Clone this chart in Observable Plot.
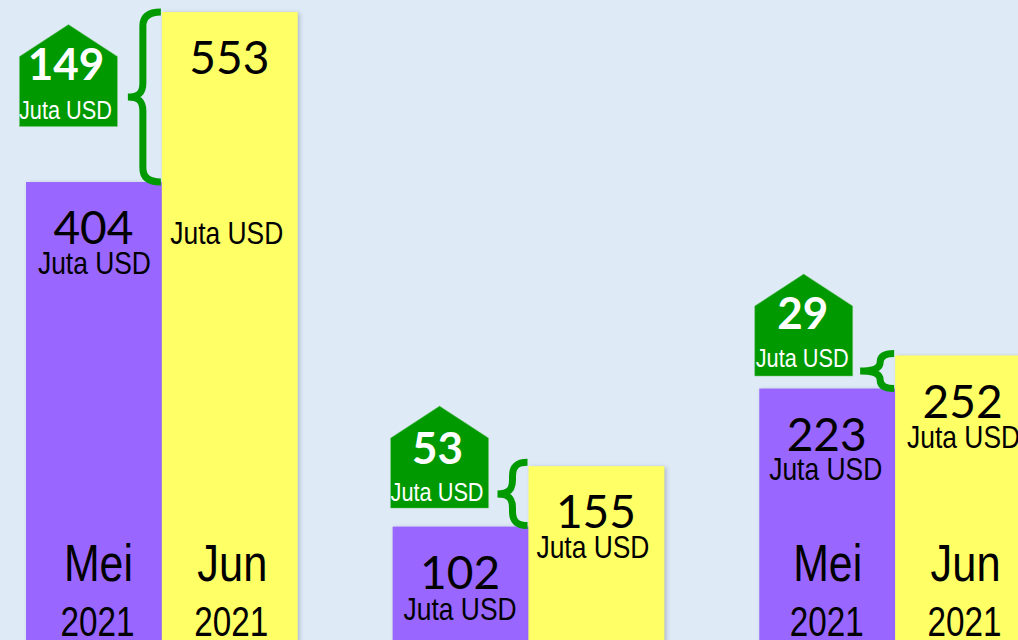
<!DOCTYPE html>
<html><head><meta charset="utf-8">
<script src="https://cdn.jsdelivr.net/npm/d3@7"></script>
<script src="https://cdn.jsdelivr.net/npm/@observablehq/plot@0.6"></script>
<style>
html,body{margin:0;padding:0;background:#DEEAF6;overflow:hidden}
svg{display:block;background:#DEEAF6!important;overflow:hidden}
g[aria-label="bar"] rect{filter:drop-shadow(2px 1px 2px rgba(60,70,90,.28))}
</style></head><body>
<script>
const groups = ["A","B","C"];
const months = ["Mei","Jun"];
const year = "2021";
const unit = "Juta USD";
const mei = [404,102,223];
const jun = [553,155,252];
const selisih = [149,53,29];
const monthLabelGroups = ["A","C"];

const rows = groups.flatMap((g,i)=>[
  {g,m:"Mei",v:mei[i]},
  {g,m:"Jun",v:jun[i]}
]);
const diffs = groups.map((g,i)=>({g,mei:mei[i],jun:jun[i],d:selisih[i]}));
const numFont = "Lato, Carlito, sans-serif";
const narrow = "'Liberation Sans', sans-serif";
const color = {Mei:"#9966FF",Jun:"#FFFF66"};

const house = {draw(c){
  c.moveTo(0,-51);c.lineTo(49,-19);c.lineTo(49,51);c.lineTo(-49,51);c.lineTo(-49,-19);c.closePath();
}};
const houseDy = {A:-107,B:-70,C:-64};
const houseDx = {A:-26,B:-21.5,C:-24};
const numDy = {A:-10,B:-7,C:-10};
const numDx = {A:-2.5,B:-2,C:-1};
const whiteUnitDy = {A:35,B:36,C:34};
const whiteUnitDx = {A:-3,B:-2.5,C:-1.5};
const unitDy = {404:81,553:221,102:83,155:81,223:81,252:82};
const unitDx = {553:-3.5,155:-4,102:-1,223:-2};
const labelDx = {"A-Mei":4,"A-Jun":2,"C-Mei":0,"C-Jun":2};
const braceGeom = {A:{stem:18,tip:33,t:0,b:0},B:{stem:15,tip:30,t:-1,b:4},C:{stem:14,tip:34,t:0,b:2}};

function braceRender(index,scales,values){
  const NS="http://www.w3.org/2000/svg";
  const g=document.createElementNS(NS,"g");
  for(const i of index){
    const d=diffs[i],G=braceGeom[d.g];
    const x=values.x[i]-1, yb=values.y1[i]+G.t, yt=values.y2[i]-G.b;
    const s=x-G.stem, tip=x-G.tip, m=(yt+yb)/2, r=Math.min(14,(yb-yt)/4);
    const p=document.createElementNS(NS,"path");
    p.setAttribute("d",`M${x},${yt}C${x-8},${yt} ${s},${yt+2} ${s},${yt+r}L${s},${m-r}C${s},${m-4} ${s-4},${m} ${tip},${m}C${s-4},${m} ${s},${m+4} ${s},${m+r}L${s},${yb-r}C${s},${yb-2} ${x-8},${yb} ${x},${yb}`);
    p.setAttribute("fill","none");p.setAttribute("stroke","#009900");p.setAttribute("stroke-width",7);
    g.appendChild(p);
  }
  return g;
}

const labelRows = rows.filter(d=>monthLabelGroups.includes(d.g));
const chart=Plot.plot({
  width:1018,height:640,
  marginLeft:26,marginRight:-13,marginTop:12,marginBottom:-3,
  fx:{domain:groups,paddingInner:95/367,paddingOuter:0,axis:null,label:null,round:false},
  x:{domain:months,padding:0,axis:null,round:false},
  y:{domain:[0,553],axis:null},
  marks:[
    Plot.barY(rows,{fx:"g",x:"m",y:"v",fill:d=>color[d.m]}),
    Plot.ruleX(diffs,{fx:"g",x:()=>"Jun",y1:"mei",y2:"jun",render:braceRender}),
    ...groups.flatMap(g=>{
      const data=diffs.filter(d=>d.g===g), base={fx:"g",x:()=>"Mei",y:"mei"};
      return [
        Plot.dot(data,{...base,symbol:house,fill:"#009900",stroke:"#7fc87f",strokeWidth:.5,dx:houseDx[g],dy:houseDy[g]}),
        Plot.text(data,{...base,text:"d",fill:"white",fontFamily:numFont,fontWeight:"bold",fontSize:44,dx:houseDx[g]+numDx[g],dy:houseDy[g]+numDy[g]}),
        Plot.text(data,{...base,text:()=>unit,fill:"white",fontFamily:narrow,fontSize:25,dx:houseDx[g]+whiteUnitDx[g],dy:houseDy[g]+whiteUnitDy[g]})
      ];
    }),
    Plot.text(rows,{fx:"g",x:"m",y:"v",text:"v",fill:"black",fontFamily:numFont,fontSize:46,dy:47,dx:-1}),
    ...rows.map(r=>Plot.text([r],{fx:"g",x:"m",y:"v",text:()=>unit,fill:"black",fontFamily:narrow,fontSize:32,dy:unitDy[r.v],dx:unitDx[r.v]||0})),
    ...labelRows.map(r=>Plot.text([r],{fx:"g",x:"m",text:"m",frameAnchor:"bottom",lineAnchor:"middle",fill:"black",fontFamily:narrow,fontSize:52,dy:-79,dx:labelDx[r.g+"-"+r.m]})),
    ...labelRows.map(r=>Plot.text([r],{fx:"g",x:"m",text:()=>year,frameAnchor:"bottom",lineAnchor:"middle",fill:"black",fontFamily:narrow,fontSize:42,dy:-21,dx:labelDx[r.g+"-"+r.m]-1}))
  ]
});
document.body.appendChild(chart);
// Reference uses a condensed face; squeeze the available Liberation Sans to the same widths.
chart.querySelectorAll("text").forEach(t=>{
  const s=t.textContent, white=t.closest("[fill='white']")||t.getAttribute("fill")==="white";
  const len = s===unit ? (white?93:113) : s==="Mei"?69 : s==="Jun"?70 : s===year?74 : 0;
  if(len){t.setAttribute("textLength",len);t.setAttribute("lengthAdjust","spacingAndGlyphs");}
});
</script>
</body></html>
